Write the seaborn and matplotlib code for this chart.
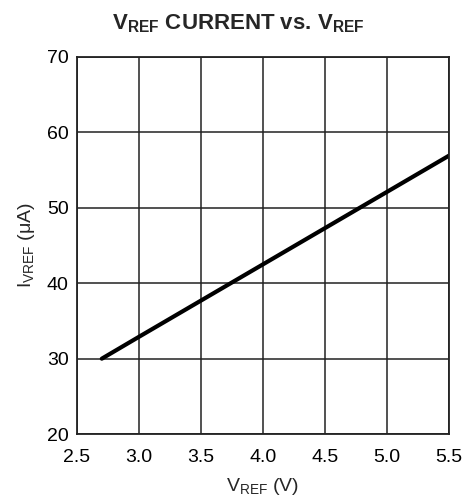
import numpy as np
import pandas as pd
import matplotlib
matplotlib.use("Agg")
import matplotlib.pyplot as plt
import seaborn as sns

# data
v_ref = [2.7, 3.0, 3.5, 4.0, 4.5, 5.0, 5.5]
i_vref = [30.0, 32.9, 37.7, 42.5, 47.3, 52.1, 56.9]

x_ticks = [2.5, 3.0, 3.5, 4.0, 4.5, 5.0, 5.5]
y_ticks = [20, 30, 40, 50, 60, 70]

df = pd.DataFrame({"VREF": v_ref, "IVREF": i_vref})

sns.set_style("white")
plt.rcParams["font.family"] = ["Liberation Sans", "DejaVu Sans"]
plt.rcParams["mathtext.fontset"] = "custom"
plt.rcParams["mathtext.rm"] = "Liberation Sans"
plt.rcParams["mathtext.it"] = "Liberation Sans"
plt.rcParams["mathtext.bf"] = "Liberation Sans:bold"
plt.rcParams["mathtext.default"] = "regular"

fig = plt.figure(figsize=(4.71, 4.99), dpi=100)
ax = fig.add_axes([0.1635, 0.130, 0.7895, 0.756])

sns.lineplot(data=df, x="VREF", y="IVREF", ax=ax, color="black", linewidth=3.0)

ax.set_xlim(2.5, 5.5)
ax.set_ylim(20, 70)
ax.set_xticks(x_ticks)
ax.set_xticklabels([f"{t:.1f}" for t in x_ticks])
ax.set_yticks(y_ticks)
ax.grid(True, color="#222222", linewidth=1.1)
for s in ax.spines.values():
    s.set_color("#222222")
    s.set_linewidth(1.3)
ax.tick_params(length=0, labelsize=14, colors="black")
ax.tick_params(axis="x", pad=11)
ax.tick_params(axis="y", pad=6)

ax.set_xlabel(r"$V_{REF}$ (V)", fontsize=14, labelpad=7)
ax.set_ylabel(r"$I_{VREF}$ ($\mu$A)", fontsize=14, labelpad=7)
fig.suptitle(r"$\mathbf{V_{REF}}$ CURRENT vs. $\mathbf{V_{REF}}$", fontsize=16,
             fontweight="bold", x=0.507, y=0.975)

fig.savefig("out.png", dpi=100)
